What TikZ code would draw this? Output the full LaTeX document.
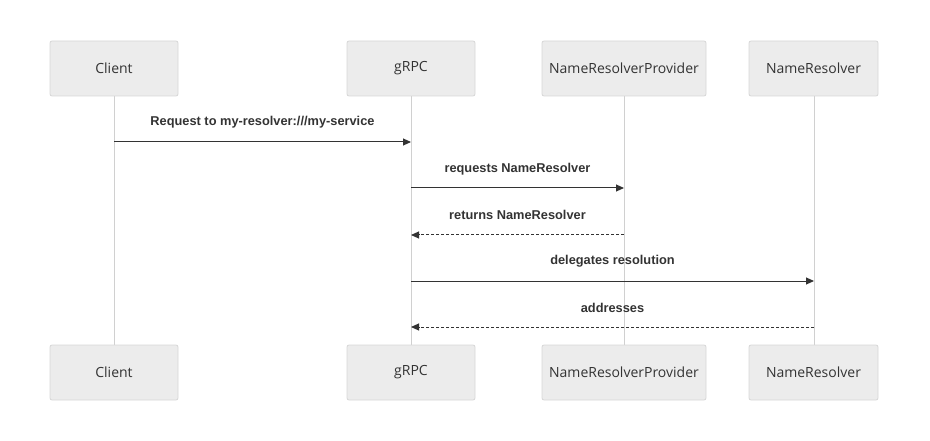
\documentclass[tikz,border=0pt]{standalone}
\usepackage{fontspec}
\setmainfont{Open Sans}
\newfontfamily\msgfont{Liberation Sans}
\usetikzlibrary{arrows.meta}
\definecolor{boxfill}{HTML}{ECECEC}
\definecolor{boxline}{HTML}{D6D6D6}
\definecolor{lifeline}{HTML}{D0D0D0}
\definecolor{txt}{HTML}{333333}
\tikzset{
  actor/.style={draw=boxline, fill=boxfill, rounded corners=2pt, line width=0.8pt,
    minimum height=55pt, text=txt, font=\fontsize{14pt}{16pt}\selectfont, inner sep=0pt},
  life/.style={draw=lifeline, line width=1pt},
  msg/.style={draw=txt, line width=1pt, -{Triangle[length=8pt,width=7pt]}},
  ret/.style={msg, dash pattern=on 3pt off 2pt},
  mlabel/.style={text=txt, font=\msgfont\bfseries\fontsize{12.8pt}{15pt}\selectfont, inner sep=0pt}
}
\begin{document}
\begin{tikzpicture}[x=1pt,y=-1pt]
\useasboundingbox (0,0) rectangle (930,441);
% lifelines first
\coordinate (c1) at (114,96); \coordinate (c2) at (114,345);
\coordinate (g1) at (411,96); \coordinate (g2) at (411,345);
\coordinate (p1) at (624,96); \coordinate (p2) at (624,345);
\coordinate (r1) at (814,96); \coordinate (r2) at (814,345);
\draw[life] (c1) -- (c2);
\draw[life] (g1) -- (g2);
\draw[life] (p1) -- (p2);
\draw[life] (r1) -- (r2);
% actor boxes
\node[actor, minimum width=128pt] (ct) at (114,68.5) {Client};
\node[actor, minimum width=128pt] (gt) at (411,68.5) {gRPC};
\node[actor, minimum width=164pt] (pt) at (624,68.5) {NameResolverProvider};
\node[actor, minimum width=129pt] (rt) at (813.5,68.5) {NameResolver};
\node[actor, minimum width=128pt] (cb) at (114,372.5) {Client};
\node[actor, minimum width=128pt] (gb) at (411,372.5) {gRPC};
\node[actor, minimum width=164pt] (pb) at (624,372.5) {NameResolverProvider};
\node[actor, minimum width=129pt] (rb) at (813.5,372.5) {NameResolver};
% message anchors
\coordinate (m1a) at (114,142); \coordinate (m1b) at (411,142);
\coordinate (m2a) at (411,188); \coordinate (m2b) at (624,188);
\coordinate (m3a) at (624,235); \coordinate (m3b) at (411,235);
\coordinate (m4a) at (411,281); \coordinate (m4b) at (814,281);
\coordinate (m5a) at (814,327); \coordinate (m5b) at (411,327);
\draw[msg] (m1a) -- (m1b);
\draw[msg] (m2a) -- (m2b);
\draw[ret] (m3a) -- (m3b);
\draw[msg] (m4a) -- (m4b);
\draw[ret] (m5a) -- (m5b);
\node[mlabel] (l1) at (262.5,122) {Request to my-resolver:///my-service};
\node[mlabel] (l2) at (517.5,169) {requests NameResolver};
\node[mlabel] (l3) at (517.5,215) {returns NameResolver};
\node[mlabel] (l4) at (612.5,261) {delegates resolution};
\node[mlabel] (l5) at (612.5,308) {addresses};
\end{tikzpicture}
\end{document}
